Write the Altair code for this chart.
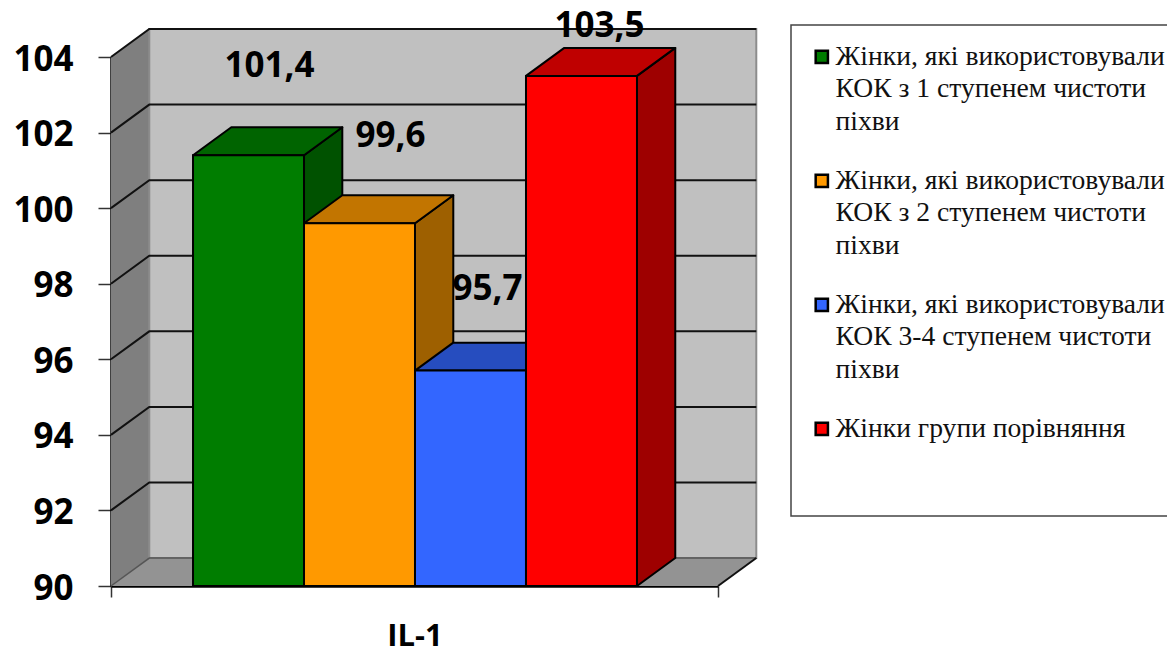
import altair as alt
import pandas as pd

# Values shown on the bars and the legend entries of each group
groups = [
    "Жінки, які використовували|КОК з 1 ступенем чистоти|піхви",
    "Жінки, які використовували|КОК з 2 ступенем чистоти|піхви",
    "Жінки, які використовували|КОК 3-4 ступенем чистоти|піхви",
    "Жінки групи порівняння",
]
values = [101.4, 99.6, 95.7, 103.5]
value_labels = ["101,4", "99,6", "95,7", "103,5"]
front_colors = ["#007d00", "#ff9900", "#3366ff", "#ff0000"]
top_colors = ["#006400", "#c27500", "#264dbf", "#bf0000"]
side_colors = ["#005200", "#9e6000", "#1f3f9c", "#9e0000"]
grid_values = [92, 94, 96, 98, 100, 102, 104]

Y_MIN, Y_MAX = 90, 104
X_MIN, X_MAX = -0.739, 4.73   # axis span, in bar widths from the first bar
DEPTH_X = 0.345               # oblique depth, in bar widths
DEPTH_Y = 0.74                # oblique depth, in value units

FONT = "Open Sans"
x_enc = alt.X("x:Q", scale=alt.Scale(domain=[X_MIN, X_MAX], nice=False, zero=False),
              axis=alt.Axis(values=[X_MIN, X_MAX], labels=False, grid=False, tickSize=11,
                            tickColor="#333333", tickWidth=1.5, domainColor="#000000", domainWidth=2.5,
                            title="IL-1", titleFont=FONT, titleFontSize=31, titleFontWeight="bold",
                            titleColor="#000000", titlePadding=23.5))
y_enc = alt.Y("y:Q", scale=alt.Scale(domain=[Y_MIN, Y_MAX], nice=False, zero=False),
              axis=alt.Axis(values=list(range(90, 105, 2)), grid=False, title=None, tickSize=13,
                            tickColor="#333333", tickWidth=1.5, domainColor="#000000", domainWidth=2.5,
                            labelFont=FONT, labelFontSize=35, labelFontWeight="bold",
                            labelColor="#000000", labelPadding=25, labelOffset=2))


def area_frame(rows):
    return pd.DataFrame(rows, columns=["x", "y", "y2"])


# Chart box: side wall, back wall and floor
side_wall = area_frame([(X_MIN, Y_MIN, Y_MAX),
                        (X_MIN + DEPTH_X, Y_MIN + DEPTH_Y, Y_MAX + DEPTH_Y)])
floor = area_frame([(X_MIN, Y_MIN, Y_MIN),
                    (X_MIN + DEPTH_X, Y_MIN, Y_MIN + DEPTH_Y),
                    (X_MAX, Y_MIN, Y_MIN + DEPTH_Y),
                    (X_MAX + DEPTH_X, Y_MIN + DEPTH_Y, Y_MIN + DEPTH_Y)])
back_wall = area_frame([(X_MIN + DEPTH_X, Y_MIN + DEPTH_Y, Y_MAX + DEPTH_Y),
                        (X_MAX + DEPTH_X, Y_MIN + DEPTH_Y, Y_MAX + DEPTH_Y)])

box = [
    alt.Chart(side_wall).mark_area(orient="vertical", color="#7f7f7f").encode(x=x_enc, y=y_enc, y2="y2:Q"),
    alt.Chart(back_wall).mark_area(orient="vertical", color="#c0c0c0", stroke="#8c8c8c", strokeWidth=2)
       .encode(x=x_enc, y=y_enc, y2="y2:Q"),
    alt.Chart(floor).mark_area(orient="vertical", color="#939393").encode(x=x_enc, y=y_enc, y2="y2:Q"),
]

# Gridlines bend from the side wall onto the back wall
grid_rows = []
for g in grid_values:
    grid_rows += [
        {"g": g, "k": 0, "x": X_MIN, "y": g},
        {"g": g, "k": 1, "x": X_MIN + DEPTH_X, "y": g + DEPTH_Y},
        {"g": g, "k": 2, "x": X_MAX + DEPTH_X, "y": g + DEPTH_Y},
    ]
grid = alt.Chart(pd.DataFrame(grid_rows)).mark_line(color="#111111", strokeWidth=2).encode(
    x=x_enc, y=y_enc, detail="g:N", order="k:Q")
floor_rows = [
    {"g": 90, "k": 0, "x": X_MIN, "y": Y_MIN},
    {"g": 90, "k": 1, "x": X_MIN + DEPTH_X, "y": Y_MIN + DEPTH_Y},
    {"g": 90, "k": 2, "x": X_MAX + DEPTH_X, "y": Y_MIN + DEPTH_Y},
]
floor_edge = alt.Chart(pd.DataFrame(floor_rows)).mark_line(color="#555555", strokeWidth=1.5).encode(
    x=x_enc, y=y_enc, detail="g:N", order="k:Q")
right_floor_rows = [
    {"x": X_MAX, "y": Y_MIN},
    {"x": X_MAX + DEPTH_X, "y": Y_MIN + DEPTH_Y},
]
right_floor_edge = alt.Chart(pd.DataFrame(right_floor_rows)).mark_line(color="#111111", strokeWidth=2).encode(
    x=x_enc, y=y_enc)

# Side and top faces of every bar, painted from left to right
faces = []
for i, v in enumerate(values):
    for row in [(i + 1, Y_MIN, v), (i + 1 + DEPTH_X, Y_MIN + DEPTH_Y, v + DEPTH_Y)]:
        faces.append({"face": f"{i}-side", "n": i * 2, "shade": side_colors[i],
                      "x": row[0], "y": row[1], "y2": row[2]})
    for row in [(i, v, v), (i + DEPTH_X, v, v + DEPTH_Y),
                (i + 1, v, v + DEPTH_Y), (i + 1 + DEPTH_X, v + DEPTH_Y, v + DEPTH_Y)]:
        faces.append({"face": f"{i}-top", "n": i * 2 + 1, "shade": top_colors[i],
                      "x": row[0], "y": row[1], "y2": row[2]})
faces_df = pd.DataFrame(faces)
face_layers = [
    alt.Chart(faces_df[faces_df["n"] == n]).mark_area(orient="vertical", stroke="#000000", strokeWidth=2,
                                                      strokeJoin="round").encode(
        x=x_enc, y=y_enc, y2="y2:Q", color=alt.Color("shade:N", scale=None))
    for n in sorted(faces_df["n"].unique())
]

# Front faces carry the legend
fronts = pd.DataFrame({
    "group": groups,
    "x": list(range(len(values))),
    "x2": [i + 1 for i in range(len(values))],
    "y": values,
    "y2": [Y_MIN] * len(values),
})
front = alt.Chart(fronts).mark_rect(stroke="#000000", strokeWidth=2).encode(
    x=x_enc, x2="x2:Q", y=y_enc, y2="y2:Q",
    color=alt.Color("group:N",
                    scale=alt.Scale(domain=groups, range=front_colors),
                    legend=alt.Legend(
                        title=None, orient="none", legendX=697, legendY=-14,
                        symbolType="square", symbolSize=150, symbolStrokeColor="#000000",
                        symbolStrokeWidth=2.5, symbolOpacity=1,
                        labelFont="Liberation Serif", labelFontSize=27.6, labelColor="#111111",
                        labelExpr="split(datum.label, '|')", labelLimit=400, labelOffset=0,
                        rowPadding=30, labelBaseline="middle",
                    )),
)

# Value labels sit beside their bars
label_offsets = [(21, -89), (31, -87), (17, -82), (18, -50)]
labels = []
for i, v in enumerate(values):
    labels.append(
        alt.Chart(pd.DataFrame({"x": [i + 0.5], "y": [v], "t": [value_labels[i]]})).mark_text(
            font=FONT, fontSize=35, fontWeight="bold", color="#000000",
            dx=label_offsets[i][0], dy=label_offsets[i][1]).encode(x=x_enc, y=y_enc, text="t:N"))

# Legend frame, placed in view coordinates
frame = alt.Chart(pd.DataFrame({"a": [0]})).mark_rect(fill="#ffffff", stroke="#444444", strokeWidth=1.5).encode(
    x=alt.value(680), x2=alt.value(1060), y=alt.value(-32), y2=alt.value(459))

chart = alt.layer(*box, grid, floor_edge, right_floor_edge, *face_layers, front, *labels, frame).properties(
    width=607, height=529,
    padding={"left": 111, "top": 57, "right": 449, "bottom": 68},
    autosize=alt.AutoSizeParams(type="none"),
    background="#ffffff",
    config=alt.Config(view=alt.ViewConfig(stroke=None), style={"guide-label": {"lineHeight": 32.5}}),
)

chart.save("out.html", embed_options={"renderer": "svg", "actions": False})
